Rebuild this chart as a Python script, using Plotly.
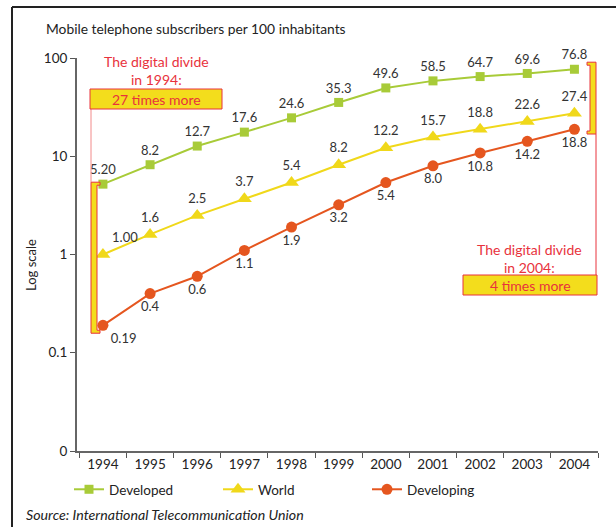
import math
import plotly.graph_objects as go

years = ["1994", "1995", "1996", "1997", "1998", "1999", "2000", "2001", "2002", "2003", "2004"]
developed = [5.20, 8.2, 12.7, 17.6, 24.6, 35.3, 49.6, 58.5, 64.7, 69.6, 76.8]
developed_labels = ["5.20", "8.2", "12.7", "17.6", "24.6", "35.3", "49.6", "58.5", "64.7", "69.6", "76.8"]
world = [1.00, 1.6, 2.5, 3.7, 5.4, 8.2, 12.2, 15.7, 18.8, 22.6, 27.4]
world_labels = ["1.00", "1.6", "2.5", "3.7", "5.4", "8.2", "12.2", "15.7", "18.8", "22.6", "27.4"]
developing = [0.19, 0.4, 0.6, 1.1, 1.9, 3.2, 5.4, 8.0, 10.8, 14.2, 18.8]
developing_labels = ["0.19", "0.4", "0.6", "1.1", "1.9", "3.2", "5.4", "8.0", "10.8", "14.2", "18.8"]
ytick_vals = [0.01, 0.1, 1, 10, 100]
ytick_text = ["0", "0.1", "1", "10", "100"]

W, H = 616, 527
L, R, T, B = 77, 598, 58, 451
FONT = "Lato"
RED = "#e8323c"
YEL = "#f3dd1c"
C_DEV = "#a8cb38"
C_WORLD = "#f0d81a"
C_DEVG = "#e5561f"


def px(x):
    return (x - L) / (R - L)


def py(y):
    return (B - y) / (B - T)


def ly(v):
    # paper y for a data value on the log axis (range -2..2)
    return (math.log10(v) + 2) / 4


n = len(years)
dev_pos = ["top center"] * n
world_pos = ["top right"] + ["top center"] * (n - 1)
devg_pos = ["bottom right"] + ["bottom center"] * (n - 1)

fig = go.Figure()
fig.add_trace(go.Scatter(
    x=years, y=developed, name="Developed", mode="lines+markers+text",
    text=developed_labels, textposition=dev_pos,
    line=dict(color=C_DEV, width=2),
    marker=dict(symbol="square", size=9, color=C_DEV),
    textfont=dict(size=13, color="#333"), cliponaxis=False))
fig.add_trace(go.Scatter(
    x=years, y=world, name="World", mode="lines+markers+text",
    text=world_labels, textposition=world_pos,
    line=dict(color=C_WORLD, width=2),
    marker=dict(symbol="triangle-up", size=13, color=C_WORLD),
    textfont=dict(size=13, color="#333"), cliponaxis=False))
fig.add_trace(go.Scatter(
    x=years, y=developing, name="Developing", mode="lines+markers+text",
    text=developing_labels, textposition=devg_pos,
    line=dict(color=C_DEVG, width=2),
    marker=dict(symbol="circle", size=11, color=C_DEVG),
    textfont=dict(size=13, color="#333"), cliponaxis=False))

shapes = []
# outer frame lines (top and left)
shapes.append(dict(type="line", xref="paper", yref="paper", x0=px(12), x1=px(616), y0=py(7), y1=py(7),
                   line=dict(color="#222", width=2)))
shapes.append(dict(type="line", xref="paper", yref="paper", x0=px(12), x1=px(12), y0=py(7), y1=py(527),
                   line=dict(color="#222", width=2)))

# 1994 bracket
top94 = ly(developed[0]) + 0.005
bot94 = ly(developing[0]) - 0.02
x1, x2, x3 = px(91), px(97), px(100)
tab = 3 / (B - T)
shapes.append(dict(type="path", xref="paper", yref="paper",
                   path=f"M {x1},{top94} L {x3},{top94} L {x3},{top94-tab} L {x2},{top94-tab} "
                        f"L {x2},{bot94+tab} L {x3},{bot94+tab} L {x3},{bot94} L {x1},{bot94} Z",
                   fillcolor=YEL, line=dict(color=RED, width=1)))
shapes.append(dict(type="line", xref="paper", yref="paper", x0=px(91), x1=px(91), y0=py(109), y1=top94,
                   line=dict(color="#f28a8a", width=1)))
shapes.append(dict(type="rect", xref="paper", yref="paper", x0=px(90), x1=px(222), y0=py(89), y1=py(109),
                   fillcolor=YEL, line=dict(color=RED, width=1)))

# 2004 bracket
top04 = ly(developed[-1]) + 0.018
bot04 = ly(developing[-1]) - 0.012
r1, r2, r3 = px(596), px(590), px(587)
shapes.append(dict(type="path", xref="paper", yref="paper",
                   path=f"M {r1},{top04} L {r3},{top04} L {r3},{top04-tab} L {r2},{top04-tab} "
                        f"L {r2},{bot04+tab} L {r3},{bot04+tab} L {r3},{bot04} L {r1},{bot04} Z",
                   fillcolor=YEL, line=dict(color=RED, width=1)))
shapes.append(dict(type="line", xref="paper", yref="paper", x0=px(596), x1=px(596), y0=bot04, y1=py(275),
                   line=dict(color=RED, width=1)))
shapes.append(dict(type="rect", xref="paper", yref="paper", x0=px(463), x1=px(597), y0=py(275), y1=py(295),
                   fillcolor=YEL, line=dict(color=RED, width=1)))

annotations = [
    dict(text="Mobile telephone subscribers per 100 inhabitants", xref="paper", yref="paper",
         x=px(44), y=py(28), xanchor="left", yanchor="middle", showarrow=False,
         font=dict(size=13.8, color="#222")),
    dict(text="Log scale", xref="paper", yref="paper", x=px(31), y=py(265), textangle=-90,
         xanchor="center", yanchor="middle", showarrow=False, font=dict(size=13, color="#222")),
    dict(text="<i>Source: International Telecommunication Union</i>", xref="paper", yref="paper",
         x=px(24), y=py(514), xanchor="left", yanchor="middle", showarrow=False,
         font=dict(size=14.2, color="#222")),
    dict(text="The digital divide<br>in 1994:", xref="paper", yref="paper", x=px(156), y=py(70),
         xanchor="center", yanchor="middle", showarrow=False, font=dict(size=14, color=RED)),
    dict(text="27 times more", xref="paper", yref="paper", x=px(156), y=py(99),
         xanchor="center", yanchor="middle", showarrow=False, font=dict(size=14, color=RED)),
    dict(text="The digital divide<br>in 2004:", xref="paper", yref="paper", x=px(529), y=py(258),
         xanchor="center", yanchor="middle", showarrow=False, font=dict(size=14, color=RED)),
    dict(text="4 times more", xref="paper", yref="paper", x=px(530), y=py(285),
         xanchor="center", yanchor="middle", showarrow=False, font=dict(size=14, color=RED)),
]

fig.update_layout(
    width=W, height=H,
    margin=dict(l=L, r=W - R, t=T, b=H - B),
    paper_bgcolor="white", plot_bgcolor="white",
    font=dict(family=FONT, size=13, color="#222"),
    showlegend=True,
    legend=dict(orientation="h", x=px(69), y=py(474), xanchor="left", yanchor="top",
                entrywidth=104, entrywidthmode="pixels", font=dict(size=13.5, color="#222"),
                bgcolor="rgba(0,0,0,0)"),
    shapes=shapes, annotations=annotations,
    xaxis=dict(type="category", range=[-0.55, n - 0.5], tickson="boundaries",
               ticks="outside", ticklen=5, tickcolor="#555", tickwidth=1.2,
               showline=True, linecolor="#666", linewidth=2, showgrid=False, zeroline=False,
               tickfont=dict(size=13.5, color="#222"), fixedrange=True),
    yaxis=dict(type="log", range=[-2, 2], tickvals=ytick_vals, ticktext=ytick_text,
               ticks="outside", ticklen=5, tickcolor="#555", tickwidth=1.2,
               showline=True, linecolor="#666", linewidth=2, showgrid=False, zeroline=False,
               tickfont=dict(size=13.5, color="#222"), fixedrange=True),
)

fig.write_html("out.html", config={"displayModeBar": False},
               post_script="document.body.style.margin='0';document.body.style.overflow='hidden';")
